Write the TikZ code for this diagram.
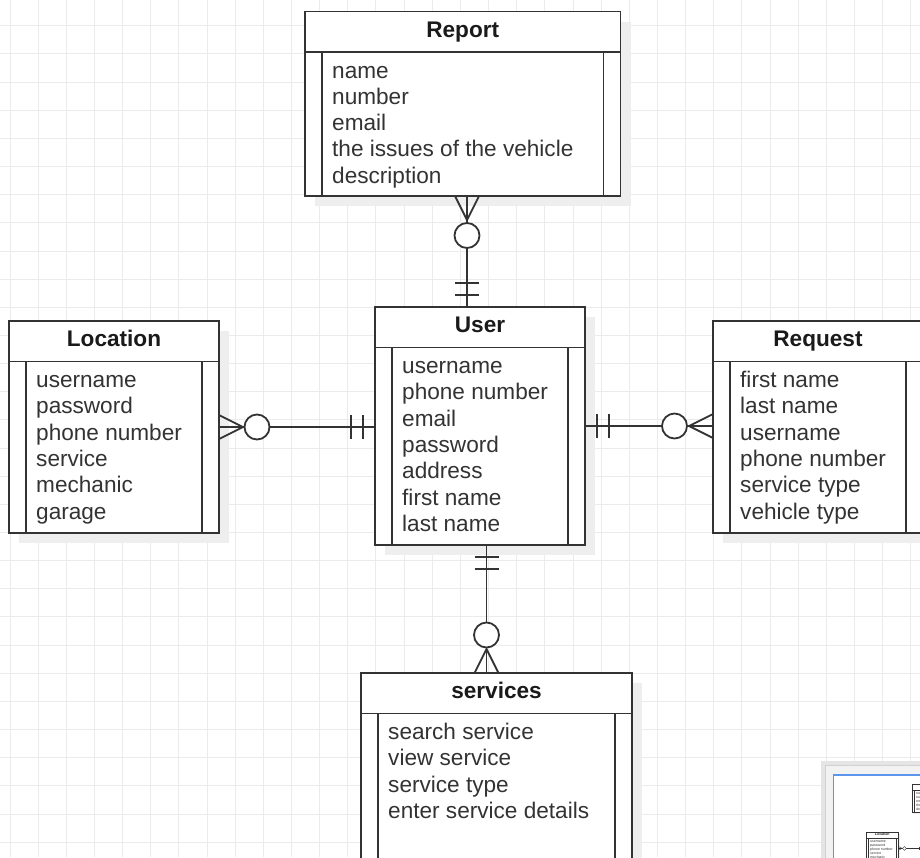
\documentclass[tikz,border=0pt]{standalone}
\usepackage{fontspec}
\setmainfont{Liberation Sans}
\usetikzlibrary{calc}
\definecolor{linec}{HTML}{333333}
\definecolor{textc}{HTML}{333333}
\definecolor{titlec}{HTML}{1A1A1A}
\definecolor{gridc}{HTML}{EBEBEB}
\definecolor{shadowc}{HTML}{EEEEEE}
\definecolor{bluec}{HTML}{5B96EC}
\definecolor{panelc}{HTML}{F2F2F2}
\def\erlw{1.8pt}
\tikzset{
  eline/.style={draw=linec, line width=\erlw},
  ebox/.style={draw=linec, line width=\erlw, fill=white, rectangle, inner sep=0pt, outer sep=0pt},
  etitle/.style={font=\bfseries\fontsize{22.6}{26.3}\selectfont, text=titlec, inner sep=0pt, anchor=base},
  eattr/.style={font=\fontsize{22.6}{26.3}\selectfont, text=textc, inner sep=0pt, anchor=base west},
  gridline/.style={draw=gridc, line width=1pt},
}
% #1 name, #2 left, #3 top, #4 width, #5 height, #6 title, #7 attributes
\newcommand\erentity[7]{%
  \fill[shadowc] ({#2+10},{#3+10}) rectangle ({#2+#4+10},{#3+#5+10});
  \node[ebox, anchor=north west, minimum width=#4pt, minimum height=#5pt] (#1) at (#2,#3) {};
  \draw[eline] (#2,{#3+40.5}) -- ({#2+#4},{#3+40.5});
  \draw[eline] ({#2+17},{#3+40.5}) -- ({#2+17},{#3+#5});
  \draw[eline] ({#2+#4-17},{#3+40.5}) -- ({#2+#4-17},{#3+#5});
  \node[etitle] (#1-title) at ({#2+#4/2},{#3+25.5}) {#6};
  \foreach \erA [count=\erN] in {#7} {
    \node[eattr] (#1-a\erN) at ({#2+27},{#3+66.5+(\erN-1)*26.3}) {\erA};
  }%
}
\newcommand\erdiagram[1]{%
  \erentity{#1report}{305}{11.5}{315.5}{184.5}{Report}{name,number,email,the issues of the vehicle,description}
  \erentity{#1location}{9}{321}{210}{212}{Location}{username,password,phone number,service,mechanic,garage}
  \erentity{#1user}{375}{307}{210}{238}{User}{username,phone number,email,password,address,first name,last name}
  \erentity{#1request}{713}{321}{210}{212}{Request}{first name,last name,username,phone number,service type,vehicle type}
  \erentity{#1services}{361}{673}{271}{220}{services}{search service,view service,service type,enter service details}
  % Report -- User
  \coordinate (#1ruX) at (467,0);
  \draw[eline] (#1report.south -| #1ruX) -- (#1user.north -| #1ruX);
  \draw[eline] (455,196) -- (467,220) -- (479,196);
  \draw[eline, fill=white] (467,235.5) circle[radius=12.5];
  \draw[eline] (455,283) -- (479,283);
  \draw[eline] (455,295) -- (479,295);
  % Location -- User
  \draw[eline] (#1location.east) -- (#1location.east -| #1user.west);
  \draw[eline] (219,415) -- (243,427) -- (219,439);
  \draw[eline, fill=white] (257,427) circle[radius=12.5];
  \draw[eline] (351,415) -- (351,439);
  \draw[eline] (363,415) -- (363,439);
  % User -- Request
  \draw[eline] (#1user.east) -- (#1user.east -| #1request.west);
  \draw[eline] (597,414) -- (597,438);
  \draw[eline] (609,414) -- (609,438);
  \draw[eline, fill=white] (674.5,426) circle[radius=12.5];
  \draw[eline] (713,414) -- (689,426) -- (713,438);
  % User -- services
  \coordinate (#1usX) at (486.5,0);
  \draw[eline] (#1user.south -| #1usX) -- (#1services.north -| #1usX);
  \draw[eline] (474.5,557) -- (498.5,557);
  \draw[eline] (474.5,569) -- (498.5,569);
  \draw[eline, fill=white] (486.5,635) circle[radius=12.5];
  \draw[eline] (474.5,673) -- (486.5,649) -- (498.5,673);
}
\begin{document}
\begin{tikzpicture}[x=1pt,y=-1pt]
\useasboundingbox (0,0) rectangle (920,857);
\clip (0,0) rectangle (920,857);
\fill[white] (0,0) rectangle (920,857);
\foreach \i in {0,...,32} \draw[gridline] ({10+\i*28.15},0) -- ({10+\i*28.15},857);
\foreach \j in {-1,...,29} \draw[gridline] (0,{25.8+\j*28.15}) -- (920,{25.8+\j*28.15});
\erdiagram{}
% outline (minimap) panel
\fill[black!10] (821,761) rectangle (930,870);
\fill[panelc, draw=black!18, line width=0.8pt] (825,765) rectangle (930,870);
\fill[white, draw=bluec, line width=1.6pt] (833.5,775) rectangle (935,880);
\begin{scope}
  \clip (834.5,776) rectangle (920,857);
  \begin{scope}[shift={(864.6,782.2)}, scale=0.155, transform shape]
    \def\erlw{0.35pt}
    \erdiagram{m}
  \end{scope}
\end{scope}
\end{tikzpicture}
\end{document}
